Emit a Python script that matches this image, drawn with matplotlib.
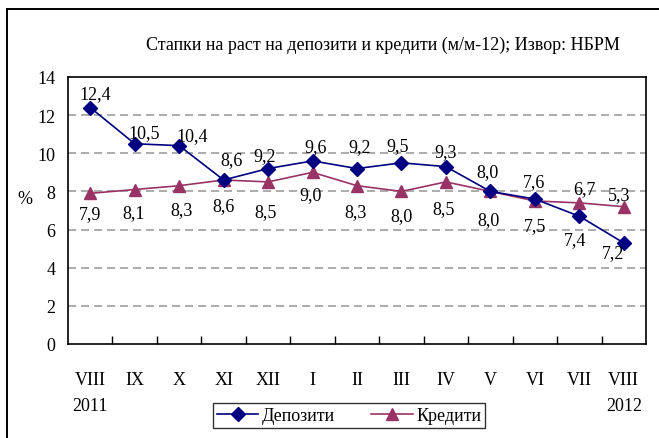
import matplotlib
matplotlib.use("Agg")
import matplotlib.pyplot as plt
from matplotlib.lines import Line2D

categories = ["VIII", "IX", "X", "XI", "XII", "I", "II", "III", "IV", "V", "VI", "VII", "VIII"]
years = {0: "2011", 12: "2012"}
deposits = [12.4, 10.5, 10.4, 8.6, 9.2, 9.6, 9.2, 9.5, 9.3, 8.0, 7.6, 6.7, 5.3]
credits = [7.9, 8.1, 8.3, 8.6, 8.5, 9.0, 8.3, 8.0, 8.5, 8.0, 7.5, 7.4, 7.2]
yticks = [0, 2, 4, 6, 8, 10, 12, 14]
title = "Стапки на раст на депозити и кредити (м/м-12); Извор: НБРМ"

# label offsets in pixels (dx, dy)
dep_off = [(5, 14), (9, 11), (13, 10), (8, 20), (-3, 13), (3, 14), (3, 22), (-4, 17),
           (0, 15), (-3, 20), (-1, 17), (5, 28), (-5, 48)]
cred_off = [(0, -20), (-1, -23), (2, -24), (0, -26), (-3, -30), (-2, -22), (-1, -26),
            (0, -24), (-2, -27), (-2, -28), (0, -25), (-4, -37), (-11, -46)]

plt.rcParams['font.family'] = ['Liberation Serif', 'DejaVu Serif']
FS = 13

W, H = 659, 439
fig = plt.figure(figsize=(W / 100, H / 100), dpi=100)
fig.patch.set_facecolor("white")

# outer frame (left and top edges visible)
fig.add_artist(Line2D([7 / W, 7 / W], [0, 1 - 10 / H], transform=fig.transFigure, color="black", lw=1.4))
fig.add_artist(Line2D([7 / W, 1], [1 - 10 / H, 1 - 10 / H], transform=fig.transFigure, color="black", lw=1.4))

ax = fig.add_axes([68 / W, 1 - 345 / H, (646 - 68) / W, (345 - 78) / H])
x = list(range(len(categories)))

navy = "#000080"
plum = "#993366"
ax.plot(x, deposits, color=navy, lw=1.2, marker="D", ms=7, label="Депозити", zorder=4)
ax.plot(x, credits, color=plum, lw=1.2, marker="^", ms=8.5, label="Кредити", zorder=3)

for i, v in enumerate(deposits):
    ax.annotate(f"{v:.1f}".replace(".", ","), (i, v), xytext=dep_off[i], textcoords="offset pixels",
                ha="center", va="center", fontsize=FS, zorder=5)
for i, v in enumerate(credits):
    ax.annotate(f"{v:.1f}".replace(".", ","), (i, v), xytext=cred_off[i], textcoords="offset pixels",
                ha="center", va="center", fontsize=FS, zorder=5)

ax.set_xlim(-0.5, len(categories) - 0.5)
ax.set_ylim(0, 14)
ax.set_yticks(yticks)
ax.set_yticklabels([str(t) for t in yticks], fontsize=FS)
ax.tick_params(axis="y", length=0, pad=9)

ax.set_xticks([i + 0.5 for i in range(len(categories) - 1)])
ax.set_xticklabels([])
ax.tick_params(axis="x", which="major", direction="in", length=6, width=1)
ax.set_xticks(x, minor=True)
ax.set_xticklabels(categories, minor=True, fontsize=FS)
ax.tick_params(axis="x", which="minor", length=0, pad=19.5)

for i, yr in years.items():
    t = ax.text(i, 0, yr, transform=ax.get_xaxis_transform(), ha="center", va="center",
                fontsize=FS, clip_on=False)
    t.set_position((i, -61.5 / 267))

for t in yticks[1:-1]:
    ax.axhline(t, color="#a6a6a6", lw=1.3, ls=(0, (4.5, 2.7)), zorder=1)

for s in ax.spines.values():
    s.set_linewidth(1.2)
    s.set_color("black")

ax.text(-0.074, 0.545, "%", transform=ax.transAxes, ha="center", va="center", fontsize=FS)

fig.text(383 / W, 1 - 45 / H, title, ha="center", va="center", fontsize=FS)

leg = fig.legend(loc="center", bbox_to_anchor=(349 / W, 1 - 416.5 / H), ncol=2, fontsize=FS,
                 frameon=True, fancybox=False, edgecolor="black", handlelength=2.3,
                 handletextpad=0.2, columnspacing=2.0, borderpad=0.2, borderaxespad=0)
leg.get_frame().set_linewidth(1.0)

fig.savefig("out.png", dpi=100, facecolor="white")
